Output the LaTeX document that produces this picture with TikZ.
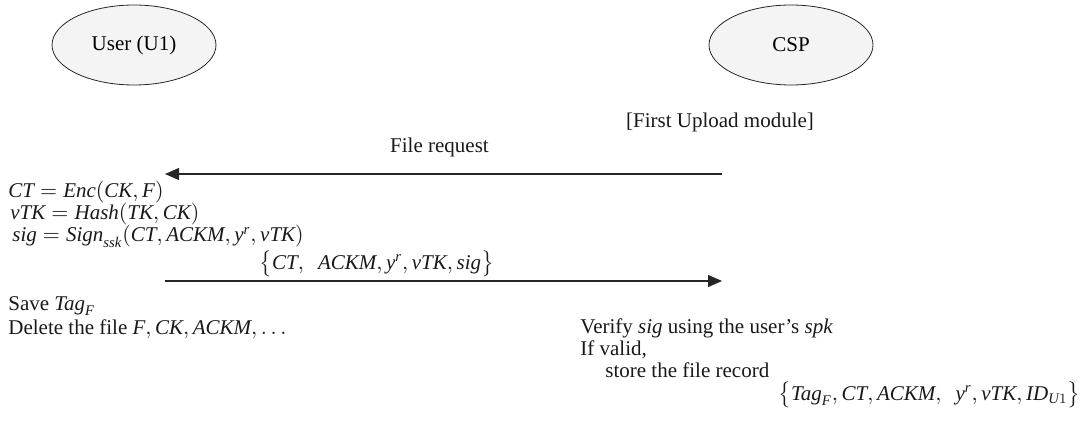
\documentclass[tikz,border=0pt]{standalone}
\usepackage{amsmath}
\usepackage{fontspec}
\setmainfont{Liberation Serif}
\usetikzlibrary{arrows.meta,shapes.geometric}

\newcommand{\vr}[1]{\textit{#1}}

\begin{document}
\begin{tikzpicture}[x=0.5pt,y=-0.5pt,
            party/.style={draw=black!85, fill=gray!9, ellipse, minimum width=82pt, minimum height=40pt, font=\fontsize{10.5}{12}\selectfont},
            msg/.style={draw=black!85, line width=0.6pt, -{Triangle[length=7pt,width=6pt]}},
            txt/.style={anchor=base west, inner sep=0pt, text=black!90, font=\fontsize{10.5}{12}\selectfont}]

            \useasboundingbox (0,0) rectangle (1090,427);

            % parties
            \node[party] (user) at (134,45) {User (U1)};
            \node[party] (csp) at (791,45) {CSP};
            \node[txt, anchor=center] (module) at (720,122) {[First Upload module]};

            % file request
            \coordinate (req-from) at (722,174);
            \coordinate (req-to) at (165,174);
            \draw[msg] (req-from) -- node[txt, anchor=base, above=8pt, xshift=-2pt] (req) {File request} (req-to);

            % user side
            \node[txt] (ct) at (8,198) {$\vr{CT} = \vr{Enc}(\vr{CK}, \vr{F})$};
            \node[txt] (vtk) at (10,220) {$\vr{vTK} = \vr{Hash}(\vr{TK}, \vr{CK})$};
            \node[txt] (sig) at (12,242) {$\vr{sig} = \vr{Sign}_{\vr{ssk}}(\vr{CT}, \vr{ACKM}, \vr{y}^{\vr{r}}, \vr{vTK})$};

            % upload
            \coordinate (up-from) at (165,281);
            \coordinate (up-to) at (722,281);
            \draw[msg] (up-from) -- node[txt, anchor=south, pos=0.38, above=1.5pt] (upload) {$\bigl\{\vr{CT},\ \ \vr{ACKM}, \vr{y}^{\vr{r}}, \vr{vTK}, \vr{sig}\bigr\}$} (up-to);

            \node[txt] (save) at (8,310) {Save $\vr{Tag}_{\vr{F}}$};
            \node[txt] (delete) at (8,334) {Delete the file $\vr{F}, \vr{CK}, \vr{ACKM}, \ldots$};

            % csp side
            \node[txt] (verify) at (580,333) {Verify \vr{sig} using the user's \vr{spk}};
            \node[txt] (valid) at (580,355) {If valid,};
            \node[txt] (store) at (605,377) {store the file record};
            \node[txt, anchor=base east] (record) at (1081,400) {$\bigl\{\vr{Tag}_{\vr{F}}, \vr{CT}, \vr{ACKM},\ \ \vr{y}^{\vr{r}}, \vr{vTK}, \vr{ID}_{\vr{U}1}\bigr\}$};
\end{tikzpicture}
\end{document}
